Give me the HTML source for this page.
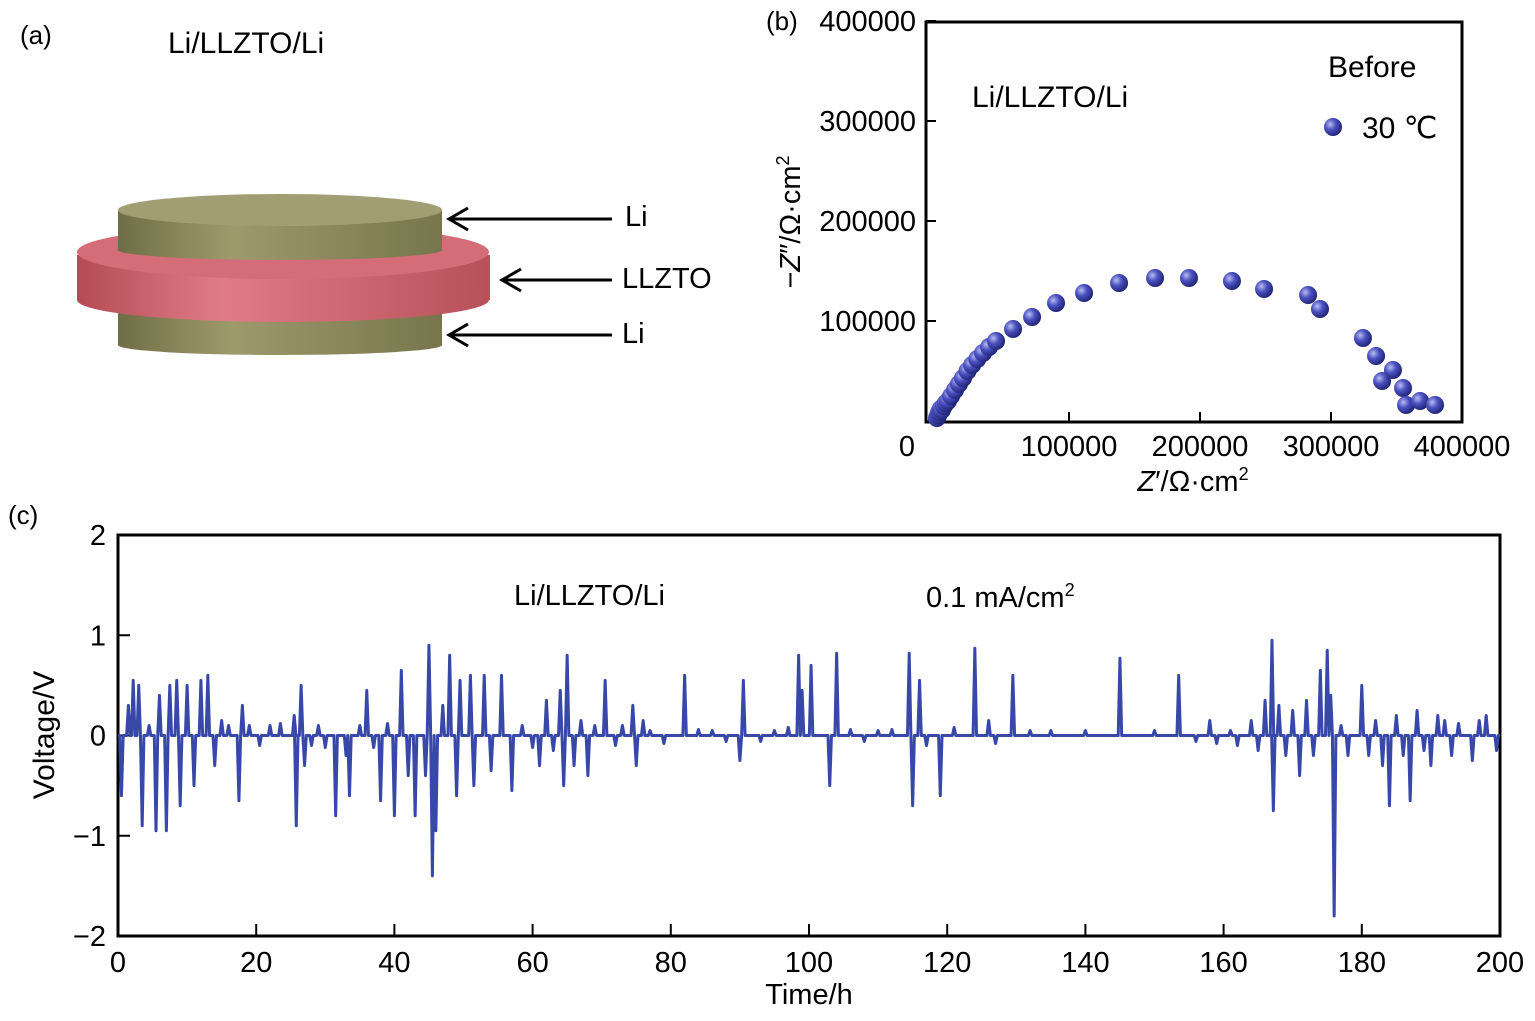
<!DOCTYPE html>
<html><head><meta charset="utf-8"><style>
body{margin:0;background:#fff;}
svg{display:block;font-family:"Liberation Sans",Arial,sans-serif;}
</style></head><body>
<svg id="fig" width="1535" height="1021" viewBox="0 0 1535 1021">
<defs>
<linearGradient id="olive" x1="0" x2="1" y1="0" y2="0"><stop offset="0" stop-color="#6f6d45"/><stop offset="0.35" stop-color="#9d9b6c"/><stop offset="1" stop-color="#77754c"/></linearGradient>
<linearGradient id="red" x1="0" x2="1" y1="0" y2="0"><stop offset="0" stop-color="#b44b55"/><stop offset="0.35" stop-color="#e07c86"/><stop offset="1" stop-color="#b8505a"/></linearGradient>
<radialGradient id="ball" cx="0.35" cy="0.35" r="0.7"><stop offset="0" stop-color="#b8bcf0"/><stop offset="0.45" stop-color="#4a50c0"/><stop offset="1" stop-color="#1e2270"/></radialGradient>
</defs>
<g>
<text x="20" y="44" font-size="26">(a)</text>
<text x="168" y="53" font-size="30">Li/LLZTO/Li</text>
<g>
<rect x="118" y="300" width="324" height="45" fill="url(#olive)"/>
<ellipse cx="280" cy="345" rx="162" ry="10" fill="url(#olive)"/>
</g>
<g>
<rect x="77" y="255" width="413" height="45" fill="url(#red)"/>
<ellipse cx="283" cy="300" rx="206" ry="22" fill="url(#red)"/>
<ellipse cx="283" cy="252" rx="206" ry="27" fill="#d46d77"/>
</g>
<g>
<rect x="118" y="210" width="324" height="40" fill="url(#olive)"/>
<ellipse cx="280" cy="250" rx="162" ry="10" fill="url(#olive)"/>
<ellipse cx="280" cy="210" rx="162" ry="16" fill="#a09e72"/>
</g>
<g stroke="#000" stroke-width="3" fill="none">
<line x1="450" y1="219" x2="612" y2="219"/><polyline points="468,208 449,219 468,230"/>
<line x1="503" y1="280" x2="612" y2="280"/><polyline points="521,269 502,280 521,291"/>
<line x1="450" y1="335" x2="612" y2="335"/><polyline points="468,324 449,335 468,346"/>
</g>
<text x="625" y="226" font-size="29">Li</text>
<text x="622" y="288" font-size="29">LLZTO</text>
<text x="622" y="343" font-size="29">Li</text>
</g>
<g id="pb">
<text x="766" y="30" font-size="26">(b)</text>
<rect x="926" y="22" width="536" height="400" fill="none" stroke="#000" stroke-width="3"/>
<text x="972" y="107" font-size="30">Li/LLZTO/Li</text>
<text x="1328" y="77" font-size="30">Before</text>
<circle cx="1333" cy="127" r="9" fill="url(#ball)"/>
<text x="1362" y="138" font-size="30">30 ℃</text>
<text x="1193" y="491" font-size="29" text-anchor="middle"><tspan font-style="italic">Z</tspan>′/Ω·cm<tspan font-size="18" dy="-11">2</tspan></text>
<text transform="translate(800,222) rotate(-90)" font-size="29" text-anchor="middle">−<tspan font-style="italic">Z</tspan>″/Ω·cm<tspan font-size="18" dy="-11">2</tspan></text>
</g>
<g id="pc">
<text x="8" y="524" font-size="26">(c)</text>
<rect x="118" y="535" width="1382" height="401" fill="none" stroke="#000" stroke-width="3"/>
<text x="514" y="605" font-size="29">Li/LLZTO/Li</text>
<text x="926" y="607" font-size="29">0.1 mA/cm<tspan font-size="18" dy="-11">2</tspan></text>
<text x="809" y="1004" font-size="29" text-anchor="middle">Time/h</text>
<text transform="translate(54,735) rotate(-90)" font-size="30" text-anchor="middle">Voltage/V</text>
</g>
</svg>
<script>
const NS="http://www.w3.org/2000/svg";
const zReal=[-800,200,1000,2000,3000,4500,6000,7600,10000,13000,16000,19100,22500,26000,30000,34400,39000,44300,57300,71800,90100,111500,138200,165700,191600,224400,248900,282500,291600,324400,334400,347300,339000,355000,357300,368000,379400];
const zImag=[3000,6000,9000,12000,11000,15000,18000,20000,25000,31000,37000,43000,50000,56000,62000,68000,74000,80000,92000,104000,118000,128000,138000,143000,143000,140000,132000,126000,112000,83000,65000,51000,40000,33000,16000,20000,16000];
const bxTicks=[0,100000,200000,300000,400000];
const byTicks=[100000,200000,300000,400000];
const spikeT=[0.5,1.5,2.2,3,3.5,4.5,5.5,6,7,7.5,8.5,9,10,11,12,13,14,15,16,17.5,18,19,20.5,22,23.5,25.5,25.8,26.5,27,28,29,30,31.5,33,33.5,35,36,37,38,39,40,41,42,43,44.5,45,45.5,46,47,48,49,49.5,51,51.5,53,54,55.5,57,58.5,60,61,62,63,64,64.5,65,66,67,68,69,70.5,72,73,74.5,75,76,77,79,82,84,86,88,90,90.5,93,95,97,98.5,99,100.3,103,104,106,108,110,112,114.5,115,116,117,119,121,124,126,127,129.5,132,135,140,145,150,153.5,156,158,159,161,162,164,165,166,167,167.2,168,169,170,171,172,173,174,175,175.5,176,177,178,180,181,182,183,184,185,186,187,188,189,190,191,192,193,194,196,197,198,199.5];
const spikeV=[-0.6,0.3,0.55,0.5,-0.9,0.1,-0.95,0.4,-0.95,0.5,0.55,-0.7,0.5,-0.5,0.55,0.6,-0.3,0.15,0.1,-0.65,0.3,0.1,-0.1,0.1,0.12,0.2,-0.9,0.5,-0.3,-0.1,0.1,-0.12,-0.8,-0.2,-0.6,0.1,0.45,-0.12,-0.65,0.12,-0.8,0.65,-0.4,-0.8,-0.4,0.9,-1.4,-0.95,0.3,0.8,-0.6,0.55,0.6,-0.5,0.6,-0.35,0.6,-0.55,0.1,-0.12,-0.3,0.35,-0.15,0.45,-0.5,0.8,-0.3,0.15,-0.4,0.1,0.55,-0.1,0.1,0.3,-0.3,0.15,0.05,-0.08,0.6,0.06,0.05,-0.06,-0.25,0.55,-0.06,0.05,0.08,0.8,0.45,0.7,-0.5,0.82,0.06,-0.06,0.05,0.06,0.82,-0.7,0.55,-0.1,-0.6,0.08,0.87,0.15,-0.08,0.6,0.05,0.05,0.05,0.77,0.05,0.6,-0.06,0.15,-0.08,0.05,-0.1,0.15,-0.15,0.35,0.95,-0.75,0.3,-0.2,0.25,-0.4,0.35,-0.2,0.65,0.85,0.4,-1.8,0.1,-0.2,0.5,-0.2,0.15,-0.3,-0.7,0.2,-0.2,-0.65,0.25,-0.15,-0.3,0.2,0.15,-0.2,0.12,-0.25,0.15,0.2,-0.15];
const cxTicks=[0,20,40,60,80,100,120,140,160,180,200];
const cyTicks=[-2,-1,0,1,2];
const cyLabels=["−2","−1","0","1","2"];

const bx=v=>938+v/100000*131, by=v=>421-v/100000*100;
const cx=t=>118+t/200*1382, cy=v=>735.5-v*100.25;
const pb=document.getElementById('pb'), pc=document.getElementById('pc');
function mk(tag,attrs,parent){const e=document.createElementNS(NS,tag);for(const k in attrs)e.setAttribute(k,attrs[k]);parent.appendChild(e);return e;}

bxTicks.forEach((v,i)=>{
  const t=mk('text',{x:i==0?907:bx(v),y:456,'font-size':29,'text-anchor':'middle'},pb);t.textContent=v;
  
  
  if(i>0&&i<4){const l=mk('line',{x1:bx(v),x2:bx(v),y1:422,y2:412,stroke:'#000','stroke-width':2},pb);
  
  }
});
byTicks.forEach(v=>{
  const t=mk('text',{x:916,y:by(v)+10,'font-size':29,'text-anchor':'end'},pb);t.textContent=v;
  
  
  const l=mk('line',{x1:926,x2:936,y1:by(v),y2:by(v),stroke:'#000','stroke-width':2},pb);
  
  
});
zReal.forEach((v,i)=>{
  const c=mk('circle',{cx:bx(v),cy:by(zImag[i]),r:9,fill:'url(#ball)'},pb);
  
  
});

cxTicks.forEach(v=>{
  const t=mk('text',{x:cx(v),y:972,'font-size':29,'text-anchor':'middle'},pc);t.textContent=v;
  
  
  const l=mk('line',{x1:cx(v),x2:cx(v),y1:936,y2:924,stroke:'#000','stroke-width':2},pc);
  
  
});
cyTicks.forEach((v,i)=>{
  const t=mk('text',{x:106,y:cy(v)+10,'font-size':29,'text-anchor':'end'},pc);t.textContent=cyLabels[i];
  
  
  const l=mk('line',{x1:118,x2:130,y1:cy(v),y2:cy(v),stroke:'#000','stroke-width':2},pc);
  
  
});
let pts=[[cx(0),cy(0)]];
spikeT.forEach((t,i)=>{pts.push([cx(t-0.25),cy(0)]);pts.push([cx(t),cy(spikeV[i])]);pts.push([cx(t+0.25),cy(0)]);});
pts.push([cx(200),cy(0)]);
const pl=mk('polyline',{points:pts.map(p=>p.join(',')).join(' '),fill:'none',stroke:'#3848a8','stroke-width':3,'stroke-linejoin':'round'},pc);


</script>
</body></html>
